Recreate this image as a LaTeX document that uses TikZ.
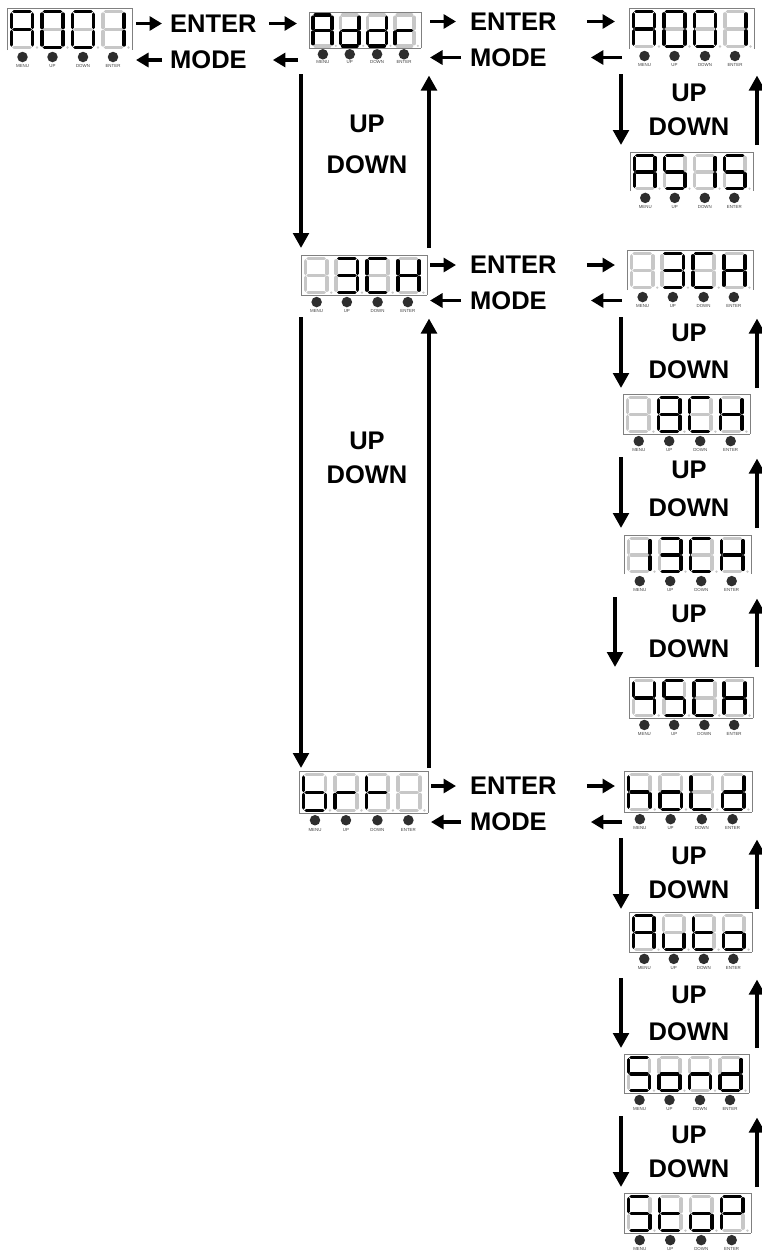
\documentclass[tikz,border=0pt]{standalone}
\usepackage{fontspec}
\setmainfont{Liberation Sans}
\usepackage{tikz}
\usetikzlibrary{arrows.meta}
\usepackage{xcolor}

\tikzset{
  segon/.style={black,line width=3.6pt,line cap=round},
  segoff/.style={black!22,line width=3.6pt,line cap=round},
  paneledge/.style={draw=black!50,line width=0.8pt},
  panelopen/.style={draw=none},
  panelnode/.style={inner sep=0pt,outer sep=0pt},
  knob/.style={circle,fill=black!82,inner sep=0pt,minimum size=10.5pt},
  knobtext/.style={font=\fontsize{4.4}{5}\selectfont,text=black!75,inner sep=0pt},
  keyword/.style={font=\fontsize{25.5}{30}\selectfont\bfseries,inner sep=0pt},
  stub/.style={line width=3.2pt,-{Triangle[length=12.5pt,width=14pt]}},
  flow/.style={line width=4.6pt,-{Triangle[length=15pt,width=15.5pt]}},
}

% the seven segments of one digit
\def\sega{(2.5,0) -- (18.5,0)}
\def\segb{(21,2.5) -- (21,15.5)}
\def\segc{(21,19.5) -- (21,32.5)}
\def\segd{(2.5,35) -- (18.5,35)}
\def\sege{(0,19.5) -- (0,32.5)}
\def\segf{(0,2.5) -- (0,15.5)}
\def\segg{(2.5,17.5) -- (18.5,17.5)}
\def\segx{(0,0)}

% lit segments per character
\def\glyphA{a,b,c,e,f,g}
\def\glyphO{a,b,c,d,e,f}
\def\glyphI{b,c}
\def\glyphBlank{x}
\def\glyphD{b,c,d,e,g}
\def\glyphR{e,g}
\def\glyphS{a,c,d,f,g}
\def\glyphThree{a,b,c,d,g}
\def\glyphC{a,d,e,f}
\def\glyphH{b,c,e,f,g}
\def\glyphEight{a,b,c,d,e,f,g}
\def\glyphFour{b,c,f,g}
\def\glyphB{c,d,e,f,g}
\def\glyphT{e,f,g}
\def\glyphTt{d,e,f,g}
\def\glyphLowH{c,e,f,g}
\def\glyphLowO{c,d,e,g}
\def\glyphL{d,e,f}
\def\glyphU{c,d,e}
\def\glyphN{c,e,g}
\def\glyphP{a,b,e,f,g}

% name, left, top, right, bottom, style of bottom edge, four characters
\newcommand{\panel}[7]{
  \pgfmathsetmacro{\panelsx}{(#4-#2)/125}
  \pgfmathsetmacro{\panelsy}{(#5-#3)/41}
  \node[panelnode,minimum width={(#4-#2)*1pt},minimum height={(#5-#3)*1pt}] (#1) at ({(#2+#4)/2},{(#3+#5)/2}) {};
  \draw[paneledge] (#2,#5) -- (#2,#3) -- (#4,#3) -- (#4,#5);
  \draw[#6] (#2,#5) -- (#4,#5);
  \begin{scope}[shift={(#2,#3)},xscale=\panelsx,yscale=\panelsy]
    \foreach \glyph [count=\i from 0] in {#7}{
      \begin{scope}[shift={(4.5+30.5*\i,3.5)}]
        \foreach \s in {a,b,c,d,e,f,g} \draw[segoff] \csname seg\s\endcsname;
        \edef\litsegs{\glyph}
        \foreach \s in \litsegs \draw[segon] \csname seg\s\endcsname;
        \fill[black!22] (25.5,35) circle (1.3);
      \end{scope}
    }
  \end{scope}
  \foreach \dx/\txt in {15.5/MENU,45.5/UP,76/DOWN,106/ENTER}{
    \node[knob] (#1-\txt) at ({#2+\dx*\panelsx},{#5+7*\panelsx}) {};
    \node[knobtext] (#1-\txt-label) at ({#2+\dx*\panelsx},{#5+16*\panelsx}) {\txt};
  }
}

% left panel, enter label, mode label, right panel, gap at left panel, gap at right panel
\newcommand{\stubs}[6]{
  \draw[stub] ([xshift=#5pt]#1.east |- #2) -- ([xshift=-14pt]#2.west);
  \draw[stub] ([xshift=30pt]#2.east) -- ([xshift=-#6pt]#4.west |- #2);
  \draw[stub] ([xshift=-9pt]#3.west) -- ([xshift=#5pt]#1.east |- #3);
  \draw[stub] ([xshift=-#6pt+7pt]#4.west |- #3) -- ([xshift=44pt]#3.east);
}

% upper panel, lower panel, down column, up column, gap below upper, gap above lower
\newcommand{\updown}[6]{
  \draw[flow] ([yshift=-#5pt]#3 |- #1.south) -- ([yshift=#6pt]#3 |- #2.north);
  \draw[flow] ([yshift=#6pt]#4 |- #2.north) -- ([yshift=-#5pt-1.5pt]#4 |- #1.south);
}

\begin{document}
\begin{tikzpicture}[x=1pt,y=-1pt]
\useasboundingbox (0,0) rectangle (762,1251);

\panel{aOne}{7}{8}{132}{50}{panelopen}{\glyphA,\glyphO,\glyphO,\glyphI}
\panel{addr}{309}{12}{421}{48}{paneledge}{\glyphA,\glyphD,\glyphD,\glyphR}
\panel{aTwo}{629}{8}{754}{49}{panelopen}{\glyphA,\glyphO,\glyphO,\glyphI}
\panel{asFifteen}{630}{152}{753}{191}{panelopen}{\glyphA,\glyphS,\glyphI,\glyphS}
\panel{chMain}{301}{255}{427}{295}{paneledge}{\glyphBlank,\glyphThree,\glyphC,\glyphH}
\panel{chThree}{627}{250}{753}{290}{panelopen}{\glyphBlank,\glyphThree,\glyphC,\glyphH}
\panel{chEight}{623}{394}{750}{434}{paneledge}{\glyphBlank,\glyphEight,\glyphC,\glyphH}
\panel{chThirteen}{624}{535}{751}{574}{panelopen}{\glyphI,\glyphThree,\glyphC,\glyphH}
\panel{chFortyfive}{629}{677}{753}{718}{paneledge}{\glyphFour,\glyphS,\glyphC,\glyphH}
\panel{brt}{299}{771}{428}{813}{paneledge}{\glyphB,\glyphR,\glyphT,\glyphBlank}
\panel{hold}{624}{771}{752}{812}{paneledge}{\glyphLowH,\glyphLowO,\glyphL,\glyphD}
\panel{auto}{629}{912}{752}{952}{paneledge}{\glyphA,\glyphU,\glyphTt,\glyphLowO}
\panel{sond}{624}{1054}{749}{1093}{paneledge}{\glyphS,\glyphLowO,\glyphN,\glyphD}
\panel{stop}{624}{1193}{751}{1233}{paneledge}{\glyphS,\glyphTt,\glyphLowO,\glyphP}

% keys along the rows
\node[keyword,anchor=west] (enterA) at (170,23.5) {ENTER};
\node[keyword,anchor=west] (modeA) at (170,60) {MODE};
\node[keyword,anchor=west] (enterB) at (470,21.5) {ENTER};
\node[keyword,anchor=west] (modeB) at (470,57.5) {MODE};
\node[keyword,anchor=west] (enterC) at (470,265) {ENTER};
\node[keyword,anchor=west] (modeC) at (470,300.5) {MODE};
\node[keyword,anchor=west] (enterD) at (470,786) {ENTER};
\node[keyword,anchor=west] (modeD) at (470,822) {MODE};

% keys along the columns
\node[keyword] (upA) at (367,124) {UP};
\node[keyword] (downA) at (367,165) {DOWN};
\node[keyword] (upB) at (367,441) {UP};
\node[keyword] (downB) at (367,475) {DOWN};
\node[keyword] (upC) at (689,93) {UP};
\node[keyword] (downC) at (689,127) {DOWN};
\node[keyword] (upD) at (689,333) {UP};
\node[keyword] (downD) at (689,370) {DOWN};
\node[keyword] (upE) at (689,470) {UP};
\node[keyword] (downE) at (689,508) {DOWN};
\node[keyword] (upF) at (689,614) {UP};
\node[keyword] (downF) at (689,649) {DOWN};
\node[keyword] (upG) at (689,856) {UP};
\node[keyword] (downG) at (689,890) {DOWN};
\node[keyword] (upH) at (689,995) {UP};
\node[keyword] (downH) at (689,1032) {DOWN};
\node[keyword] (upI) at (689,1135) {UP};
\node[keyword] (downI) at (689,1169) {DOWN};

% first row is spaced its own way
\draw[stub] ([xshift=4pt]aOne.east |- enterA) -- ([xshift=-8pt]enterA.west);
\draw[stub] ([xshift=12pt]enterA.east) -- ([xshift=-12pt]addr.west |- enterA);
\draw[stub] ([xshift=-8pt]modeA.west) -- ([xshift=4pt]aOne.east |- modeA);
\draw[stub] ([xshift=-11pt]addr.west |- modeA) -- ([xshift=26pt]modeA.east);

\stubs{addr}{enterB}{modeB}{aTwo}{9}{14}
\stubs{chMain}{enterC}{modeC}{chThree}{3}{12}
\stubs{brt}{enterD}{modeD}{hold}{3}{9}

\coordinate (dnMid) at (301,0);
\coordinate (upMid) at (429,0);
\coordinate (dnRight) at (621,0);
\coordinate (dnShift) at (615,0);
\coordinate (upRight) at (757,0);

\updown{addr}{chMain}{dnMid}{upMid}{26}{7}
\updown{chMain}{brt}{dnMid}{upMid}{22}{3}
\updown{aTwo}{asFifteen}{dnRight}{upRight}{25}{7}
\updown{chThree}{chEight}{dnRight}{upRight}{27}{6}
\updown{chEight}{chThirteen}{dnRight}{upRight}{23}{7}
\updown{chThirteen}{chFortyfive}{dnShift}{upRight}{23}{10}
\updown{hold}{auto}{dnRight}{upRight}{26}{3}
\updown{auto}{sond}{dnRight}{upRight}{26}{6}
\updown{sond}{stop}{dnRight}{upRight}{23}{6}
\end{tikzpicture}
\end{document}
